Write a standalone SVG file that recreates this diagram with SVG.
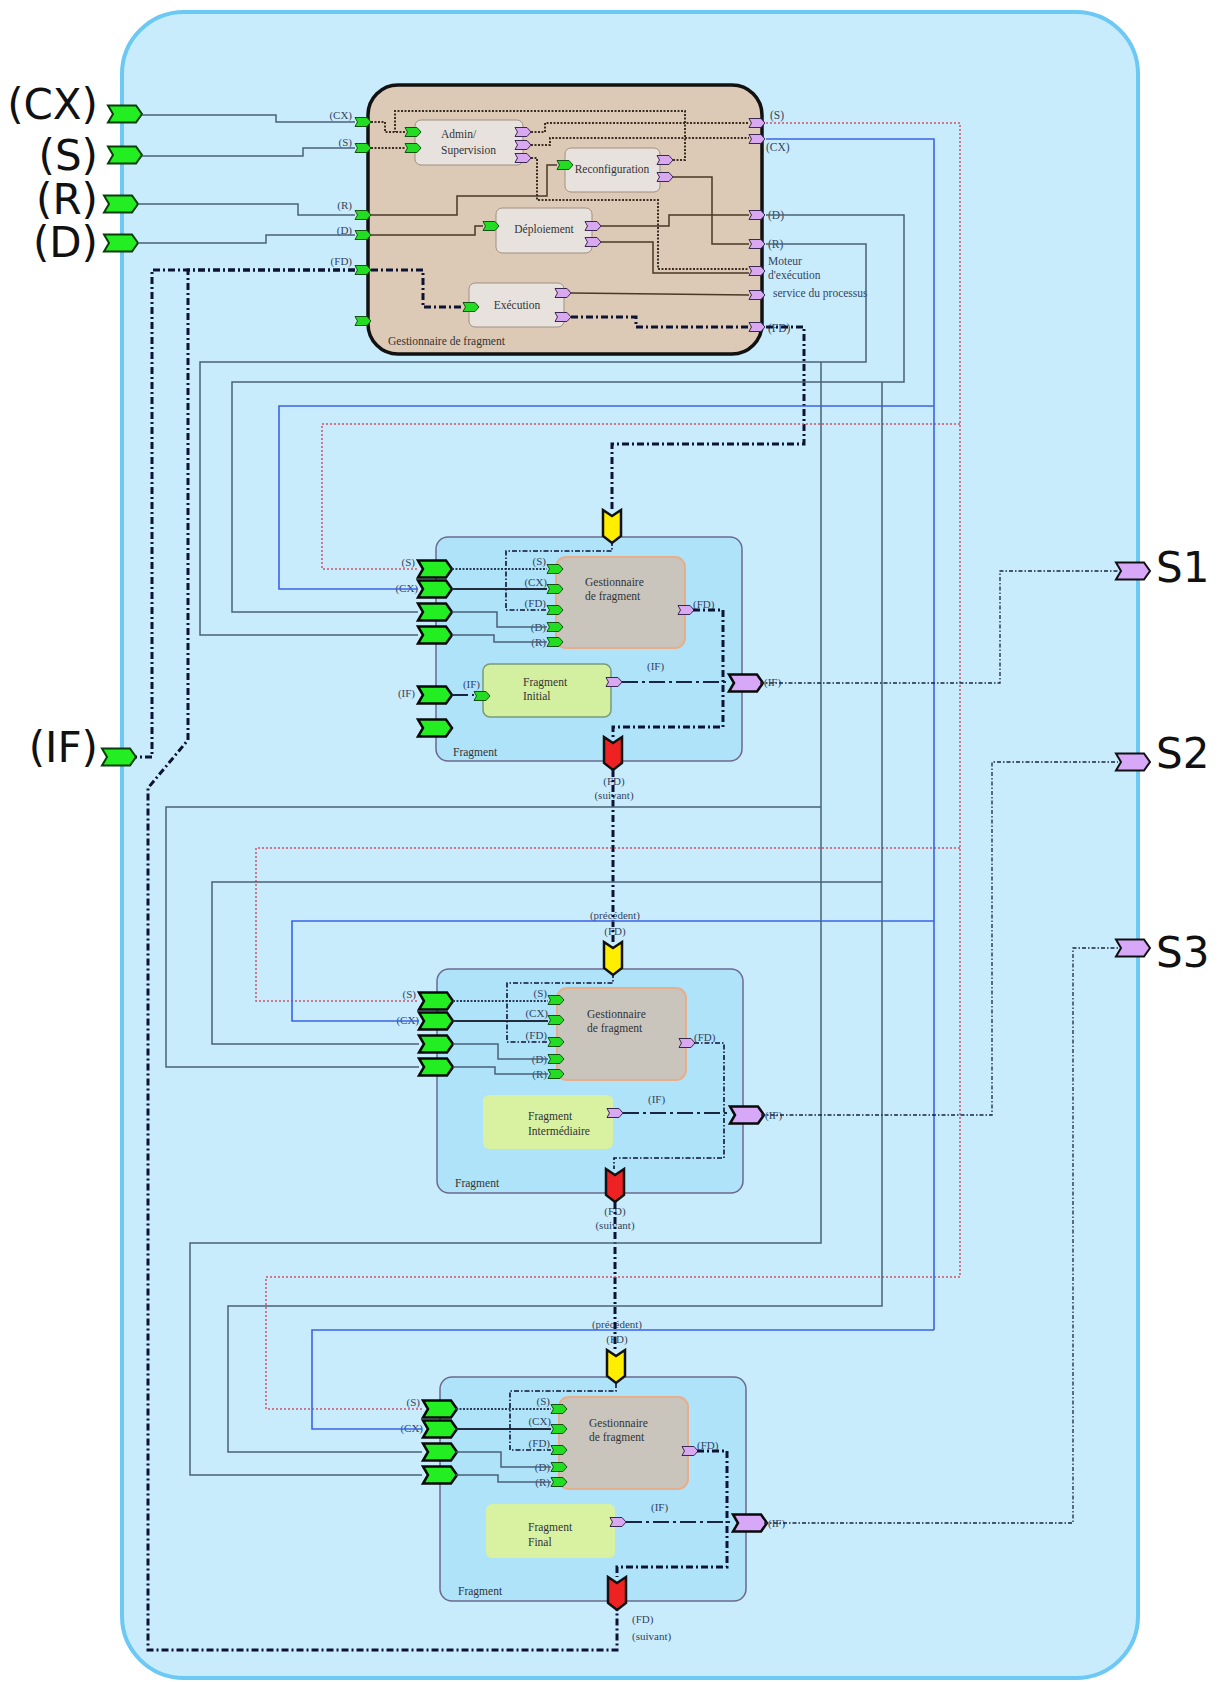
<svg xmlns="http://www.w3.org/2000/svg" xmlns:xlink="http://www.w3.org/1999/xlink" width="1223" height="1682" viewBox="0 0 1223 1682">
<style>
.w{fill:none;stroke:#4b6275;stroke-width:1.5}
.dk{fill:none;stroke:#222c3e;stroke-width:2}
.bw{fill:none;stroke:#4a3828;stroke-width:1.5}
.dot{fill:none;stroke:#3d2e22;stroke-width:2;stroke-dasharray:2 1.5}
.dotb{fill:none;stroke:#2c3a55;stroke-width:1.8;stroke-dasharray:2 1.5}
.rd{fill:none;stroke:#d0506a;stroke-width:1.5;stroke-dasharray:2 2}
.bl{fill:none;stroke:#3b63e8;stroke-width:1.6}
.fd{fill:none;stroke:#0d1333;stroke-width:3;stroke-dasharray:7 3 2 3}
.fdt{fill:none;stroke:#0d1333;stroke-width:1.6;stroke-dasharray:5 2 1.5 2}
.ifl{fill:none;stroke:#1a2540;stroke-width:2;stroke-dasharray:16 4 3 4}
.ifo{fill:none;stroke:#1a2540;stroke-width:1.3;stroke-dasharray:4 2 1.5 2}
.pg{fill:#22dd22;stroke:#145214;stroke-width:1}
.pl{fill:#d8a8f0;stroke:#3a2850;stroke-width:1}
.bg{fill:#22ee22;stroke:#0a0a0a;stroke-width:2.5}
.bv{fill:#d8a8f8;stroke:#0a0a0a;stroke-width:2.5}
.og{fill:#22ee22;stroke:#0b3d0b;stroke-width:2}
.ov{fill:#d8a8f8;stroke:#111;stroke-width:2}
.yp{fill:#ffee00;stroke:#111;stroke-width:2.5}
.rp{fill:#ee2222;stroke:#111;stroke-width:2.5}
.ib{fill:#e8e2de;stroke:#a09080;stroke-width:1}
.fbox{fill:#aee3fa;stroke:#6c6a8c;stroke-width:1.5}
.gbox{fill:#c9c5bd;stroke:#e8ae8c;stroke-width:2}
.fi1{fill:#d2f0a0;stroke:#7a9a7a;stroke-width:1.5}
.fi{fill:#d8f2a2}
.big{font-family:"DejaVu Sans",sans-serif;font-size:42px;fill:#111}
.lb{font-family:"Liberation Serif",serif;font-size:11px;fill:#33445f}
.lr{font-family:"Liberation Serif",serif;font-size:11.5px;fill:#33445f}
.bt{font-family:"Liberation Serif",serif;font-size:11.5px;fill:#333}
.e{text-anchor:end}
.m{text-anchor:middle}
</style>
<defs>
<path id="sp" d="M0,-4.5 H12 L16,0 L12,4.5 H0 L2.5,0 Z"/>
<path id="bp" d="M0,-8.5 H28 L34,0 L28,8.5 H0 L5,0 Z"/>
<path id="vp" d="M0,0 L9,6 L18,0 V26 L9,33 L0,26 Z"/>
</defs>

<g id="container">
<rect x="122" y="12" width="1016" height="1666" rx="62" fill="#c9ecfc" stroke="#6cc8f4" stroke-width="4"/>
</g>

<g id="external-ports">
<use href="#bp" class="og" x="108" y="114"/>
<use href="#bp" class="og" x="108" y="155"/>
<use href="#bp" class="og" x="104" y="204"/>
<use href="#bp" class="og" x="104" y="243"/>
<use href="#bp" class="og" x="102" y="757"/>
<use href="#bp" class="ov" x="1116" y="571"/>
<use href="#bp" class="ov" x="1116" y="762"/>
<use href="#bp" class="ov" x="1116" y="948"/>
<text class="big e" x="98" y="119">(CX)</text>
<text class="big e" x="98" y="170">(S)</text>
<text class="big e" x="98" y="214">(R)</text>
<text class="big e" x="98" y="257">(D)</text>
<text class="big e" x="98" y="762">(IF)</text>
<text class="big" x="1156" y="582">S1</text>
<text class="big" x="1156" y="768">S2</text>
<text class="big" x="1156" y="967">S3</text>
</g>

<g id="gestionnaire-principal">
<rect x="368" y="85" width="394" height="269" rx="30" fill="#dccab6" stroke="#111" stroke-width="3.5"/>
<rect class="ib" x="415" y="120" width="108" height="45" rx="6"/>
<text class="bt" x="441" y="138">Admin/</text>
<text class="bt" x="441" y="154">Supervision</text>
<rect class="ib" x="565" y="148" width="95" height="44" rx="6"/>
<text class="bt m" x="612" y="173">Reconfiguration</text>
<rect class="ib" x="496" y="208" width="96" height="45" rx="6"/>
<text class="bt m" x="544" y="233">Déploiement</text>
<rect class="ib" x="469" y="283" width="95" height="44" rx="6"/>
<text class="bt m" x="517" y="309">Exécution</text>
<text class="bt" x="388" y="345">Gestionnaire de fragment</text>
<use href="#sp" class="pg" x="355" y="122"/>
<use href="#sp" class="pg" x="355" y="148"/>
<use href="#sp" class="pg" x="355" y="215"/>
<use href="#sp" class="pg" x="355" y="235"/>
<use href="#sp" class="pg" x="355" y="270"/>
<use href="#sp" class="pg" x="355" y="321"/>
<use href="#sp" class="pg" x="405" y="132"/>
<use href="#sp" class="pg" x="405" y="148"/>
<use href="#sp" class="pl" x="515" y="132"/>
<use href="#sp" class="pl" x="515" y="145"/>
<use href="#sp" class="pl" x="515" y="158"/>
<use href="#sp" class="pg" x="557" y="165"/>
<use href="#sp" class="pl" x="657" y="160"/>
<use href="#sp" class="pl" x="657" y="177"/>
<use href="#sp" class="pg" x="483" y="226"/>
<use href="#sp" class="pl" x="585" y="226"/>
<use href="#sp" class="pl" x="585" y="242"/>
<use href="#sp" class="pg" x="463" y="307"/>
<use href="#sp" class="pl" x="555" y="293"/>
<use href="#sp" class="pl" x="555" y="317"/>
<use href="#sp" class="pl" x="749" y="123"/>
<use href="#sp" class="pl" x="749" y="139"/>
<use href="#sp" class="pl" x="749" y="215"/>
<use href="#sp" class="pl" x="749" y="244"/>
<use href="#sp" class="pl" x="749" y="271"/>
<use href="#sp" class="pl" x="749" y="295"/>
<use href="#sp" class="pl" x="749" y="327"/>
<text class="lb e" x="352" y="119">(CX)</text>
<text class="lb e" x="352" y="146">(S)</text>
<text class="lb e" x="352" y="209">(R)</text>
<text class="lb e" x="352" y="234">(D)</text>
<text class="lb e" x="352" y="265">(FD)</text>
<text class="lr" x="770" y="119">(S)</text>
<text class="lr" x="766" y="151">(CX)</text>
<text class="lr" x="768" y="219">(D)</text>
<text class="lr" x="768" y="248">(R)</text>
<text class="lr" x="768" y="265">Moteur</text>
<text class="lr" x="768" y="279">d'exécution</text>
<text class="lr" x="773" y="297">service du  processus</text>
<text class="lr" x="768" y="332">(FD)</text>
</g>

<g id="fragment-initial" transform="translate(436,537)">
<rect class="fbox" x="0" y="0" width="306" height="224" rx="12"/>
<rect class="gbox" x="120" y="20" width="129" height="91" rx="10"/>
<text class="bt" x="149" y="49">Gestionnaire</text>
<text class="bt" x="149" y="63">de fragment</text>
<rect class="fi1" x="47" y="127" width="128" height="53" rx="7"/>
<text class="bt" x="87" y="149">Fragment</text>
<text class="bt" x="87" y="163">Initial</text>
<text class="bt" x="17" y="219">Fragment</text>
<use href="#sp" class="pg" x="111" y="32"/>
<use href="#sp" class="pg" x="111" y="52"/>
<use href="#sp" class="pg" x="111" y="73"/>
<use href="#sp" class="pg" x="111" y="90"/>
<use href="#sp" class="pg" x="111" y="105"/>
<use href="#sp" class="pl" x="242" y="73"/>
<use href="#sp" class="pl" x="170" y="145"/>
<use href="#sp" class="pg" x="38" y="159"/>
<use href="#bp" class="bg" x="-18" y="32"/>
<use href="#bp" class="bg" x="-18" y="52"/>
<use href="#bp" class="bg" x="-18" y="75"/>
<use href="#bp" class="bg" x="-18" y="98"/>
<use href="#bp" class="bg" x="-18" y="158"/>
<use href="#bp" class="bg" x="-18" y="191"/>
<use href="#bp" class="bv" x="293" y="146"/>
<use href="#vp" class="yp" x="167" y="-27"/>
<use href="#vp" class="rp" x="168" y="200"/>
<text class="lb e" x="110" y="28">(S)</text>
<text class="lb e" x="111" y="49">(CX)</text>
<text class="lb e" x="110" y="70">(FD)</text>
<text class="lb e" x="110" y="94">(D)</text>
<text class="lb e" x="110" y="109">(R)</text>
<text class="lb" x="257" y="71">(FD)</text>
<text class="lb" x="211" y="133">(IF)</text>
<text class="lb" x="328" y="149">(IF)</text>
<text class="lb e" x="-21" y="29">(S)</text>
<text class="lb e" x="-18" y="55">(CX)</text>
<text class="lb e" x="-21" y="160">(IF)</text>
<text class="lb e" x="44" y="151">(IF)</text>
<text class="lb m" x="178" y="248">(FD)</text>
<text class="lb m" x="178" y="262">(suivant)</text>
</g>

<g id="fragment-intermediaire" transform="translate(437,969)">
<rect class="fbox" x="0" y="0" width="306" height="224" rx="12"/>
<rect class="gbox" x="120" y="19" width="129" height="92" rx="10"/>
<text class="bt" x="150" y="49">Gestionnaire</text>
<text class="bt" x="150" y="63">de fragment</text>
<rect class="fi" x="46" y="126" width="130" height="54" rx="6"/>
<text class="bt" x="91" y="151">Fragment</text>
<text class="bt" x="91" y="166">Intermédiaire</text>
<text class="bt" x="18" y="218">Fragment</text>
<use href="#sp" class="pg" x="111" y="31"/>
<use href="#sp" class="pg" x="111" y="51"/>
<use href="#sp" class="pg" x="111" y="73"/>
<use href="#sp" class="pg" x="111" y="90"/>
<use href="#sp" class="pg" x="111" y="105"/>
<use href="#sp" class="pl" x="242" y="74"/>
<use href="#sp" class="pl" x="170" y="144"/>
<use href="#bp" class="bg" x="-18" y="32"/>
<use href="#bp" class="bg" x="-18" y="52"/>
<use href="#bp" class="bg" x="-18" y="75"/>
<use href="#bp" class="bg" x="-18" y="98"/>
<use href="#bp" class="bv" x="293" y="146"/>
<use href="#vp" class="yp" x="167" y="-27"/>
<use href="#vp" class="rp" x="169" y="200"/>
<text class="lb e" x="110" y="28">(S)</text>
<text class="lb e" x="111" y="48">(CX)</text>
<text class="lb e" x="110" y="70">(FD)</text>
<text class="lb e" x="110" y="94">(D)</text>
<text class="lb e" x="110" y="109">(R)</text>
<text class="lb" x="257" y="72">(FD)</text>
<text class="lb" x="211" y="134">(IF)</text>
<text class="lb" x="328" y="150">(IF)</text>
<text class="lb e" x="-21" y="29">(S)</text>
<text class="lb e" x="-18" y="55">(CX)</text>
<text class="lb m" x="178" y="-50">(précédent)</text>
<text class="lb m" x="178" y="-34">(FD)</text>
<text class="lb m" x="178" y="246">(FD)</text>
<text class="lb m" x="178" y="260">(suivant)</text>
</g>

<g id="fragment-final" transform="translate(440,1377)">
<rect class="fbox" x="0" y="0" width="306" height="224" rx="12"/>
<rect class="gbox" x="119" y="20" width="129" height="92" rx="10"/>
<text class="bt" x="149" y="50">Gestionnaire</text>
<text class="bt" x="149" y="64">de fragment</text>
<rect class="fi" x="46" y="127" width="129" height="54" rx="6"/>
<text class="bt" x="88" y="154">Fragment</text>
<text class="bt" x="88" y="169">Final</text>
<text class="bt" x="18" y="218">Fragment</text>
<use href="#sp" class="pg" x="111" y="32"/>
<use href="#sp" class="pg" x="111" y="52"/>
<use href="#sp" class="pg" x="111" y="73"/>
<use href="#sp" class="pg" x="111" y="90"/>
<use href="#sp" class="pg" x="111" y="105"/>
<use href="#sp" class="pl" x="242" y="74"/>
<use href="#sp" class="pl" x="170" y="145"/>
<use href="#bp" class="bg" x="-17" y="32"/>
<use href="#bp" class="bg" x="-17" y="52"/>
<use href="#bp" class="bg" x="-17" y="75"/>
<use href="#bp" class="bg" x="-17" y="98"/>
<use href="#bp" class="bv" x="293" y="146"/>
<use href="#vp" class="yp" x="167" y="-27"/>
<use href="#vp" class="rp" x="168" y="200"/>
<text class="lb e" x="110" y="28">(S)</text>
<text class="lb e" x="111" y="48">(CX)</text>
<text class="lb e" x="110" y="70">(FD)</text>
<text class="lb e" x="110" y="94">(D)</text>
<text class="lb e" x="110" y="109">(R)</text>
<text class="lb" x="257" y="72">(FD)</text>
<text class="lb" x="211" y="134">(IF)</text>
<text class="lb" x="328" y="150">(IF)</text>
<text class="lb e" x="-20" y="29">(S)</text>
<text class="lb e" x="-17" y="55">(CX)</text>
<text class="lb m" x="177" y="-49">(précédent)</text>
<text class="lb m" x="177" y="-34">(FD)</text>
<text class="lb" x="192" y="246">(FD)</text>
<text class="lb" x="192" y="263">(suivant)</text>
</g>

<g id="connectors">
<g id="inputs">
<path class="w" d="M142,115 H276 V122 H355"/>
<path class="w" d="M142,156 H303 V148 H355"/>
<path class="w" d="M138,204 H298 V215 H355"/>
<path class="w" d="M138,243 H266 V235 H355"/>
</g>
<g id="main-internal">
<path class="dot" d="M371,122 H385 V132 H405"/>
<path class="dot" d="M673,160 H685 V111 H395 V132"/>
<path class="dot" d="M371,148 H405"/>
<path class="dot" d="M531,132 H545 V123 H749"/>
<path class="dot" d="M531,145 H550 V138 H749"/>
<path class="dot" d="M531,158 H537 V200 H658 V269 H749"/>
<path class="bw" d="M673,177 H712 V244 H749"/>
<path class="bw" d="M371,215 H457 V196 H547 V165 H557"/>
<path class="bw" d="M371,235 H475 V226 H483"/>
<path class="bw" d="M601,226 H669 V215 H749"/>
<path class="bw" d="M601,242 H653 V273 H749"/>
<path class="bw" d="M571,293 L749,295"/>
<path class="fd" d="M371,270 H423 V307 H463"/>
<path class="fd" d="M571,317 H636 V327 H749"/>
</g>
<g id="fd-chain">
<path class="fd" d="M766,327 H804 V444 H612 V510"/>
<path class="fd" d="M613,770 V942"/>
<path class="fd" d="M615,1202 V1350"/>
<path class="fd" d="M355,270 H152 V757 H136"/>
<path class="fd" d="M355,270 H188 V740 L148,788 V1650 H617 V1610"/>
</g>
<g id="s-lines">
<path class="rd" d="M766,123 H960 V1277"/>
<path class="rd" d="M960,424 H322 V569 H418"/>
<path class="rd" d="M960,848 H256 V1001 H419"/>
<path class="rd" d="M960,1277 H266 V1409 H422"/>
</g>
<g id="cx-lines">
<path class="bl" d="M766,139 H934 V1330"/>
<path class="bl" d="M934,406 H279 V589 H418"/>
<path class="bl" d="M934,921 H292 V1021 H419"/>
<path class="bl" d="M934,1330 H312 V1429 H422"/>
</g>
<g id="d-lines">
<path class="w" d="M766,215 H904 V382 H232 V612 H418"/>
<path class="w" d="M882,382 V1306 H228 V1452 H422"/>
<path class="w" d="M882,882 H212 V1044 H419"/>
</g>
<g id="r-lines">
<path class="w" d="M766,244 H866 V362 H200 V635 H418"/>
<path class="w" d="M821,362 V1243 H190 V1475 H422"/>
<path class="w" d="M821,807 H166 V1067 H419"/>
</g>
<g id="if-outputs">
<path class="ifo" d="M760,683 H1000 V571 H1118"/>
<path class="ifo" d="M761,1115 H992 V762 H1118"/>
<path class="ifo" d="M764,1523 H1073 V948 H1118"/>
</g>
<g id="frag1-wires" transform="translate(436,537)">
<path class="dotb" d="M16,32 H111"/>
<path class="dk" d="M16,52 H111"/>
<path class="w" d="M16,75 H61 V90 H111"/>
<path class="w" d="M16,98 H58 V105 H111"/>
<path class="fdt" d="M176,4 V14 H70 V73 H111"/>
<path class="fd" d="M257,73 H287 V190 H177 V200"/>
<path class="ifl" d="M186,145 H293"/>
<path class="ifl" d="M16,158 H38"/>
</g>
<g id="frag2-wires" transform="translate(437,969)">
<path class="dotb" d="M16,32 H111"/>
<path class="dk" d="M16,52 H111"/>
<path class="w" d="M16,75 H61 V90 H111"/>
<path class="w" d="M16,98 H58 V105 H111"/>
<path class="fdt" d="M176,4 V14 H70 V73 H111"/>
<path class="fdt" d="M257,74 H287 V189 H177 V200"/>
<path class="ifl" d="M186,144 H293"/>
</g>
<g id="frag3-wires" transform="translate(440,1377)">
<path class="dotb" d="M16,32 H111"/>
<path class="dk" d="M16,52 H111"/>
<path class="w" d="M16,75 H61 V90 H111"/>
<path class="w" d="M16,98 H58 V105 H111"/>
<path class="fdt" d="M176,6 V14 H70 V73 H111"/>
<path class="fd" d="M257,74 H287 V190 H177 V200"/>
<path class="ifl" d="M186,145 H293"/>
</g>
</g>
</svg>
